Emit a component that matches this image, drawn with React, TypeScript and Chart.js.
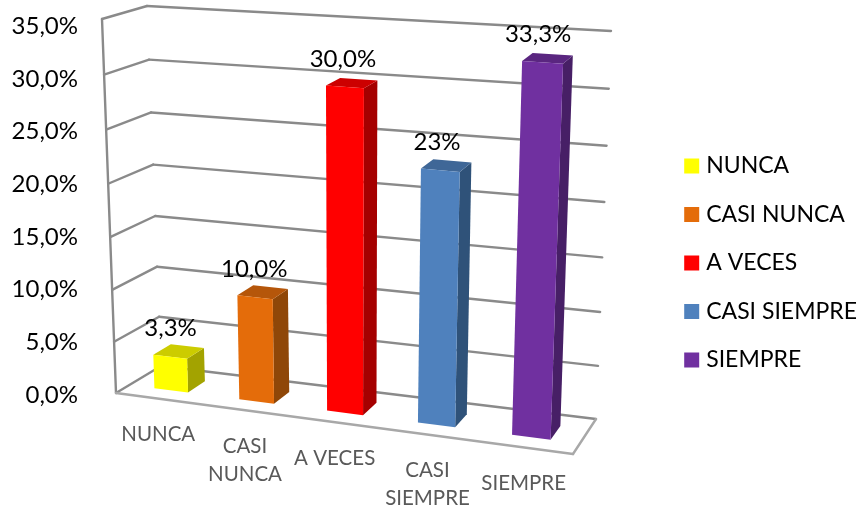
import React, { useEffect, useRef } from "react";
import { Chart, registerables } from "chart.js";

Chart.register(...registerables);

const categories: string[][] = [["NUNCA"], ["CASI", "NUNCA"], ["A VECES"], ["CASI", "SIEMPRE"], ["SIEMPRE"]];
const values: number[] = [3.3, 10, 30, 23.3, 33.3];
const valueLabels: string[] = ["3,3%", "10,0%", "30,0%", "23%", "33,3%"];
const frontColors: string[] = ["#FFFF00", "#E46C0A", "#FF0000", "#4F81BD", "#7030A0"];
const topColors: string[] = ["#CCCC00", "#B5560A", "#CC0000", "#3F6797", "#5A2680"];
const sideColors: string[] = ["#A3A300", "#8F4708", "#A50000", "#2F5279", "#471F66"];

type P = { x: number; y: number };
const FONT = "Lato, Carlito, Calibri, sans-serif";

// Corners of the 3D plot box on screen: f/b = front/back, b/t = bottom/top, 0/1 = left/right
const box = {
  fb0: { x: 116, y: 393 }, ft0: { x: 102, y: 19 }, bb0: { x: 161, y: 366 }, bt0: { x: 147, y: 6 },
  fb1: { x: 573, y: 454 }, ft1: { x: 588, y: 52 }, bb1: { x: 596, y: 419 }, bt1: { x: 611, y: 31 },
};
const lerp = (a: P, b: P, t: number): P => ({ x: a.x + (b.x - a.x) * t, y: a.y + (b.y - a.y) * t });
const warp = (t: number, k: number) => t / (t + k * (1 - t));
const project = (uRaw: number, vRaw: number, w: number): P => {
  const u = warp(uRaw, 1.09);
  const v = warp(vRaw, 1.05);
  const bottom = lerp(lerp(box.fb0, box.bb0, w), lerp(box.fb1, box.bb1, w), u);
  const top = lerp(lerp(box.ft0, box.bt0, w), lerp(box.ft1, box.bt1, w), u);
  return lerp(bottom, top, v);
};

const poly = (ctx: CanvasRenderingContext2D, pts: P[], fill: string) => {
  ctx.beginPath();
  pts.forEach((p, i) => (i ? ctx.lineTo(p.x, p.y) : ctx.moveTo(p.x, p.y)));
  ctx.closePath();
  ctx.fillStyle = fill;
  ctx.fill();
};
const seg = (ctx: CanvasRenderingContext2D, a: P, b: P, color: string, width: number) => {
  ctx.beginPath();
  ctx.moveTo(a.x, a.y);
  ctx.lineTo(b.x, b.y);
  ctx.strokeStyle = color;
  ctx.lineWidth = width;
  ctx.stroke();
};

const perspective3D = {
  id: "perspective3D",
  beforeDatasetsDraw(chart: any) {
    const { ctx, chartArea: area, scales } = chart;
    const xs = (px: number) => (px - area.left) / (area.right - area.left);
    const ys = (px: number) => (area.bottom - px) / (area.bottom - area.top);
    const GRID = "#8A8A8A";
    ctx.save();
    ctx.lineCap = "round";
    ctx.lineJoin = "round";

    // walls + floor
    for (const tick of scales.y.ticks) {
      const v = ys(scales.y.getPixelForValue(tick.value));
      const f = project(0, v, 0);
      const b = project(0, v, 1);
      const r = project(1, v, 1);
      seg(ctx, f, b, GRID, 2.4);
      seg(ctx, b, r, GRID, 2.4);
    }
    seg(ctx, project(0, 0, 0), project(0, 1, 0), GRID, 2.4);
    seg(ctx, project(0, 0, 0), project(1, 0, 0), "#A8A8A8", 2.4);
    seg(ctx, project(1, 0, 0), project(1, 0, 1), "#A8A8A8", 2.4);

    // bars
    const W0 = 0.3;
    const W1 = 0.7;
    const meta = chart.getDatasetMeta(0);
    meta.data.forEach((el: any, i: number) => {
      const u0 = xs(el.x - el.width / 2);
      const u1 = xs(el.x + el.width / 2);
      const v0 = ys(el.base);
      const v1 = ys(el.y);
      const fbl = project(u0, v0, W0), fbr = project(u1, v0, W0);
      const ftl = project(u0, v1, W0), ftr = project(u1, v1, W0);
      const bbr = project(u1, v0, W1), btr = project(u1, v1, W1), btl = project(u0, v1, W1);
      poly(ctx, [fbr, bbr, btr, ftr], sideColors[i]);
      poly(ctx, [ftl, ftr, btr, btl], topColors[i]);
      poly(ctx, [fbl, fbr, ftr, ftl], frontColors[i]);

      // value label above the bar
      const uc = xs(el.x);
      const anchor = project(uc, v1, W0);
      ctx.fillStyle = "#000000";
      ctx.font = `24px ${FONT}`;
      ctx.textAlign = "center";
      ctx.textBaseline = "middle";
      ctx.fillText(valueLabels[i], anchor.x - 6 * uc + 1, anchor.y - 28);

      // category label under the floor
      const foot = project(uc, 0, 0);
      ctx.fillStyle = "#595959";
      ctx.font = `20.5px ${FONT}`;
      categories[i].forEach((line, j) => {
        ctx.fillText(line, foot.x, foot.y + 36 + j * 28);
      });
    });
    ctx.restore();
    return false;
  },
};

export default function App() {
  const ref = useRef<HTMLCanvasElement>(null);
  useEffect(() => {
    const chart = new Chart(ref.current!, {
      type: "bar",
      data: {
        labels: categories,
        datasets: [{ data: values, backgroundColor: frontColors, barPercentage: 0.4, categoryPercentage: 1 }],
      },
      plugins: [perspective3D],
      options: {
        animation: false,
        responsive: false,
        layout: { padding: { left: 0, top: 24, right: -6, bottom: 12 } },
        scales: {
          x: {
            grid: { display: false },
            border: { display: false },
            ticks: { display: false },
            afterFit: (s: any) => { s.height = 107; },
          },
          y: {
            min: 0,
            max: 35,
            grid: { display: false, drawTicks: false },
            border: { display: false },
            ticks: {
              stepSize: 5,
              padding: 12,
              color: "#000000",
              font: { family: FONT, size: 24 },
              callback: (v: any) => Number(v).toFixed(1).replace(".", ",") + "%",
            },
            afterFit: (s: any) => { s.width = 90; },
          },
        },
        plugins: {
          tooltip: { enabled: false },
          legend: {
            position: "right",
            labels: {
              boxWidth: 6,
              boxHeight: 6,
              padding: 25.5,
              color: "#000000",
              font: { family: FONT, size: 23, lineHeight: 1.2 },
              generateLabels: () =>
                categories.map((c, i) => ({
                  text: c.join(" "),
                  fillStyle: frontColors[i],
                  strokeStyle: frontColors[i],
                  lineWidth: 9,
                  hidden: false,
                  index: i,
                })),
            },
          },
        },
      },
    } as any);
    return () => chart.destroy();
  }, []);
  return (
    <div style={{ position: "absolute", left: 0, top: 0, width: 861, height: 514, background: "#fff", overflow: "hidden" }}>
      <canvas ref={ref} width={861} height={514} style={{ display: "block" }} />
    </div>
  );
}
